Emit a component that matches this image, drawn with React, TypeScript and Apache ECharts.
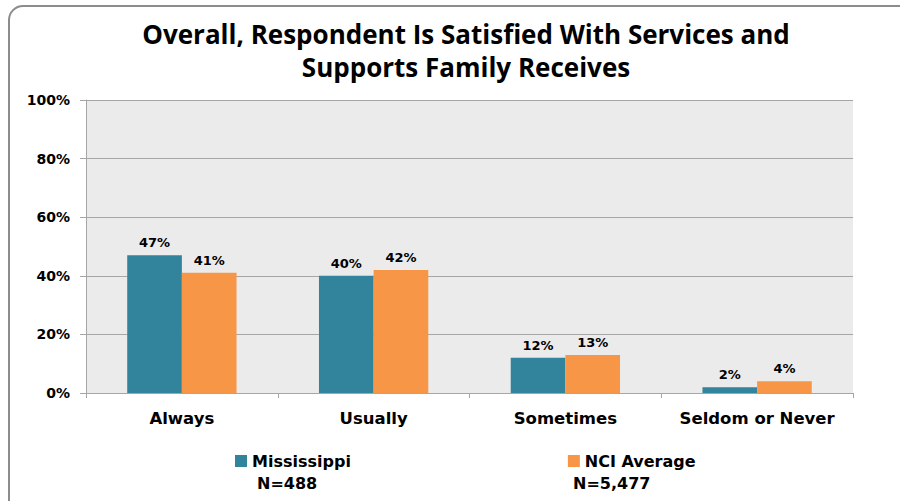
import React, { useEffect, useRef } from "react";
import * as echarts from "echarts";

const categories = ["Always", "Usually", "Sometimes", "Seldom or Never"];
const mississippi = [47, 40, 12, 2];
const nciAverage = [41, 42, 13, 4];
const yTicks = [0, 20, 40, 60, 80, 100];
const seriesNames = ["Mississippi", "NCI Average"];
const sampleSizes = ["N=488", "N=5,477"];

const TEAL = "#31849B";
const ORANGE = "#F79646";
const FONT = "DejaVu Sans";

export default function App() {
  const ref = useRef<HTMLDivElement>(null);
  useEffect(() => {
    if (!ref.current) return;
    const chart = echarts.init(ref.current, null, { renderer: "svg" });
    const label = {
      show: true,
      position: "top",
      distance: 6,
      formatter: (p: any) => `${p.value}%`,
      color: "#000",
      fontFamily: FONT,
      fontWeight: "bold",
      fontSize: 13,
    };
    chart.setOption({
      animation: false,
      backgroundColor: "#fff",
      title: {
        text: "Overall, Respondent Is Satisfied With Services and\nSupports Family Receives",
        left: 461,
        textAlign: "center",
        top: 12,
        textStyle: {
          fontFamily: "Open Sans",
          fontWeight: "bold",
          fontSize: 26,
          lineHeight: 33,
          color: "#000",
        },
      },
      legend: {
        data: seriesNames,
        left: 230,
        top: 448,
        itemWidth: 12,
        itemHeight: 12,
        itemGap: 217,
        icon: "rect",
        textStyle: { fontFamily: FONT, fontWeight: "bold", fontSize: 16, color: "#000" },
      },
      grid: {
        left: 86,
        right: 47,
        top: 100,
        bottom: 108,
        show: true,
        backgroundColor: "#EBEBEB",
        borderWidth: 0,
      },
      xAxis: {
        type: "category",
        data: categories,
        axisLine: { lineStyle: { color: "#A6A6A6", width: 1 } },
        axisTick: { show: true, length: 5, lineStyle: { color: "#A6A6A6" } },
        axisLabel: {
          interval: 0,
          margin: 17,
          fontFamily: FONT,
          fontWeight: "bold",
          fontSize: 16.5,
          color: "#000",
        },
      },
      yAxis: {
        type: "value",
        min: 0,
        max: 100,
        interval: 20,
        axisLine: { show: true, lineStyle: { color: "#A6A6A6", width: 1 } },
        axisTick: { show: true, length: 6, lineStyle: { color: "#A6A6A6" } },
        splitLine: { lineStyle: { color: "#A6A6A6", width: 1 } },
        axisLabel: {
          margin: 16,
          formatter: (v: number) => (yTicks.includes(v) ? `${v}%` : ""),
          fontFamily: FONT,
          fontWeight: "bold",
          fontSize: 14,
          color: "#000",
        },
      },
      series: [
        {
          name: seriesNames[0],
          type: "bar",
          data: mississippi,
          itemStyle: { color: TEAL },
          barGap: "0%",
          barCategoryGap: "43%",
          label,
        },
        {
          name: seriesNames[1],
          type: "bar",
          data: nciAverage,
          itemStyle: { color: ORANGE },
          label,
        },
      ],
      graphic: [
        {
          type: "rect",
          shape: { x: 9, y: 6, width: 930, height: 540, r: 14 },
          style: { fill: "none", stroke: "#8C8C8C", lineWidth: 2 },
          silent: true,
        },
        {
          type: "text",
          x: 257,
          y: 475,
          style: {
            text: sampleSizes[0],
            fontFamily: FONT,
            fontWeight: "bold",
            fontSize: 16,
            fill: "#000",
          },
        },
        {
          type: "text",
          x: 573,
          y: 475,
          style: {
            text: sampleSizes[1],
            fontFamily: FONT,
            fontWeight: "bold",
            fontSize: 16,
            fill: "#000",
          },
        },
      ],
    });
    return () => chart.dispose();
  }, []);
  return (
    <div
      ref={ref}
      style={{ position: "fixed", left: 0, top: 0, width: 900, height: 501 }}
    />
  );
}
